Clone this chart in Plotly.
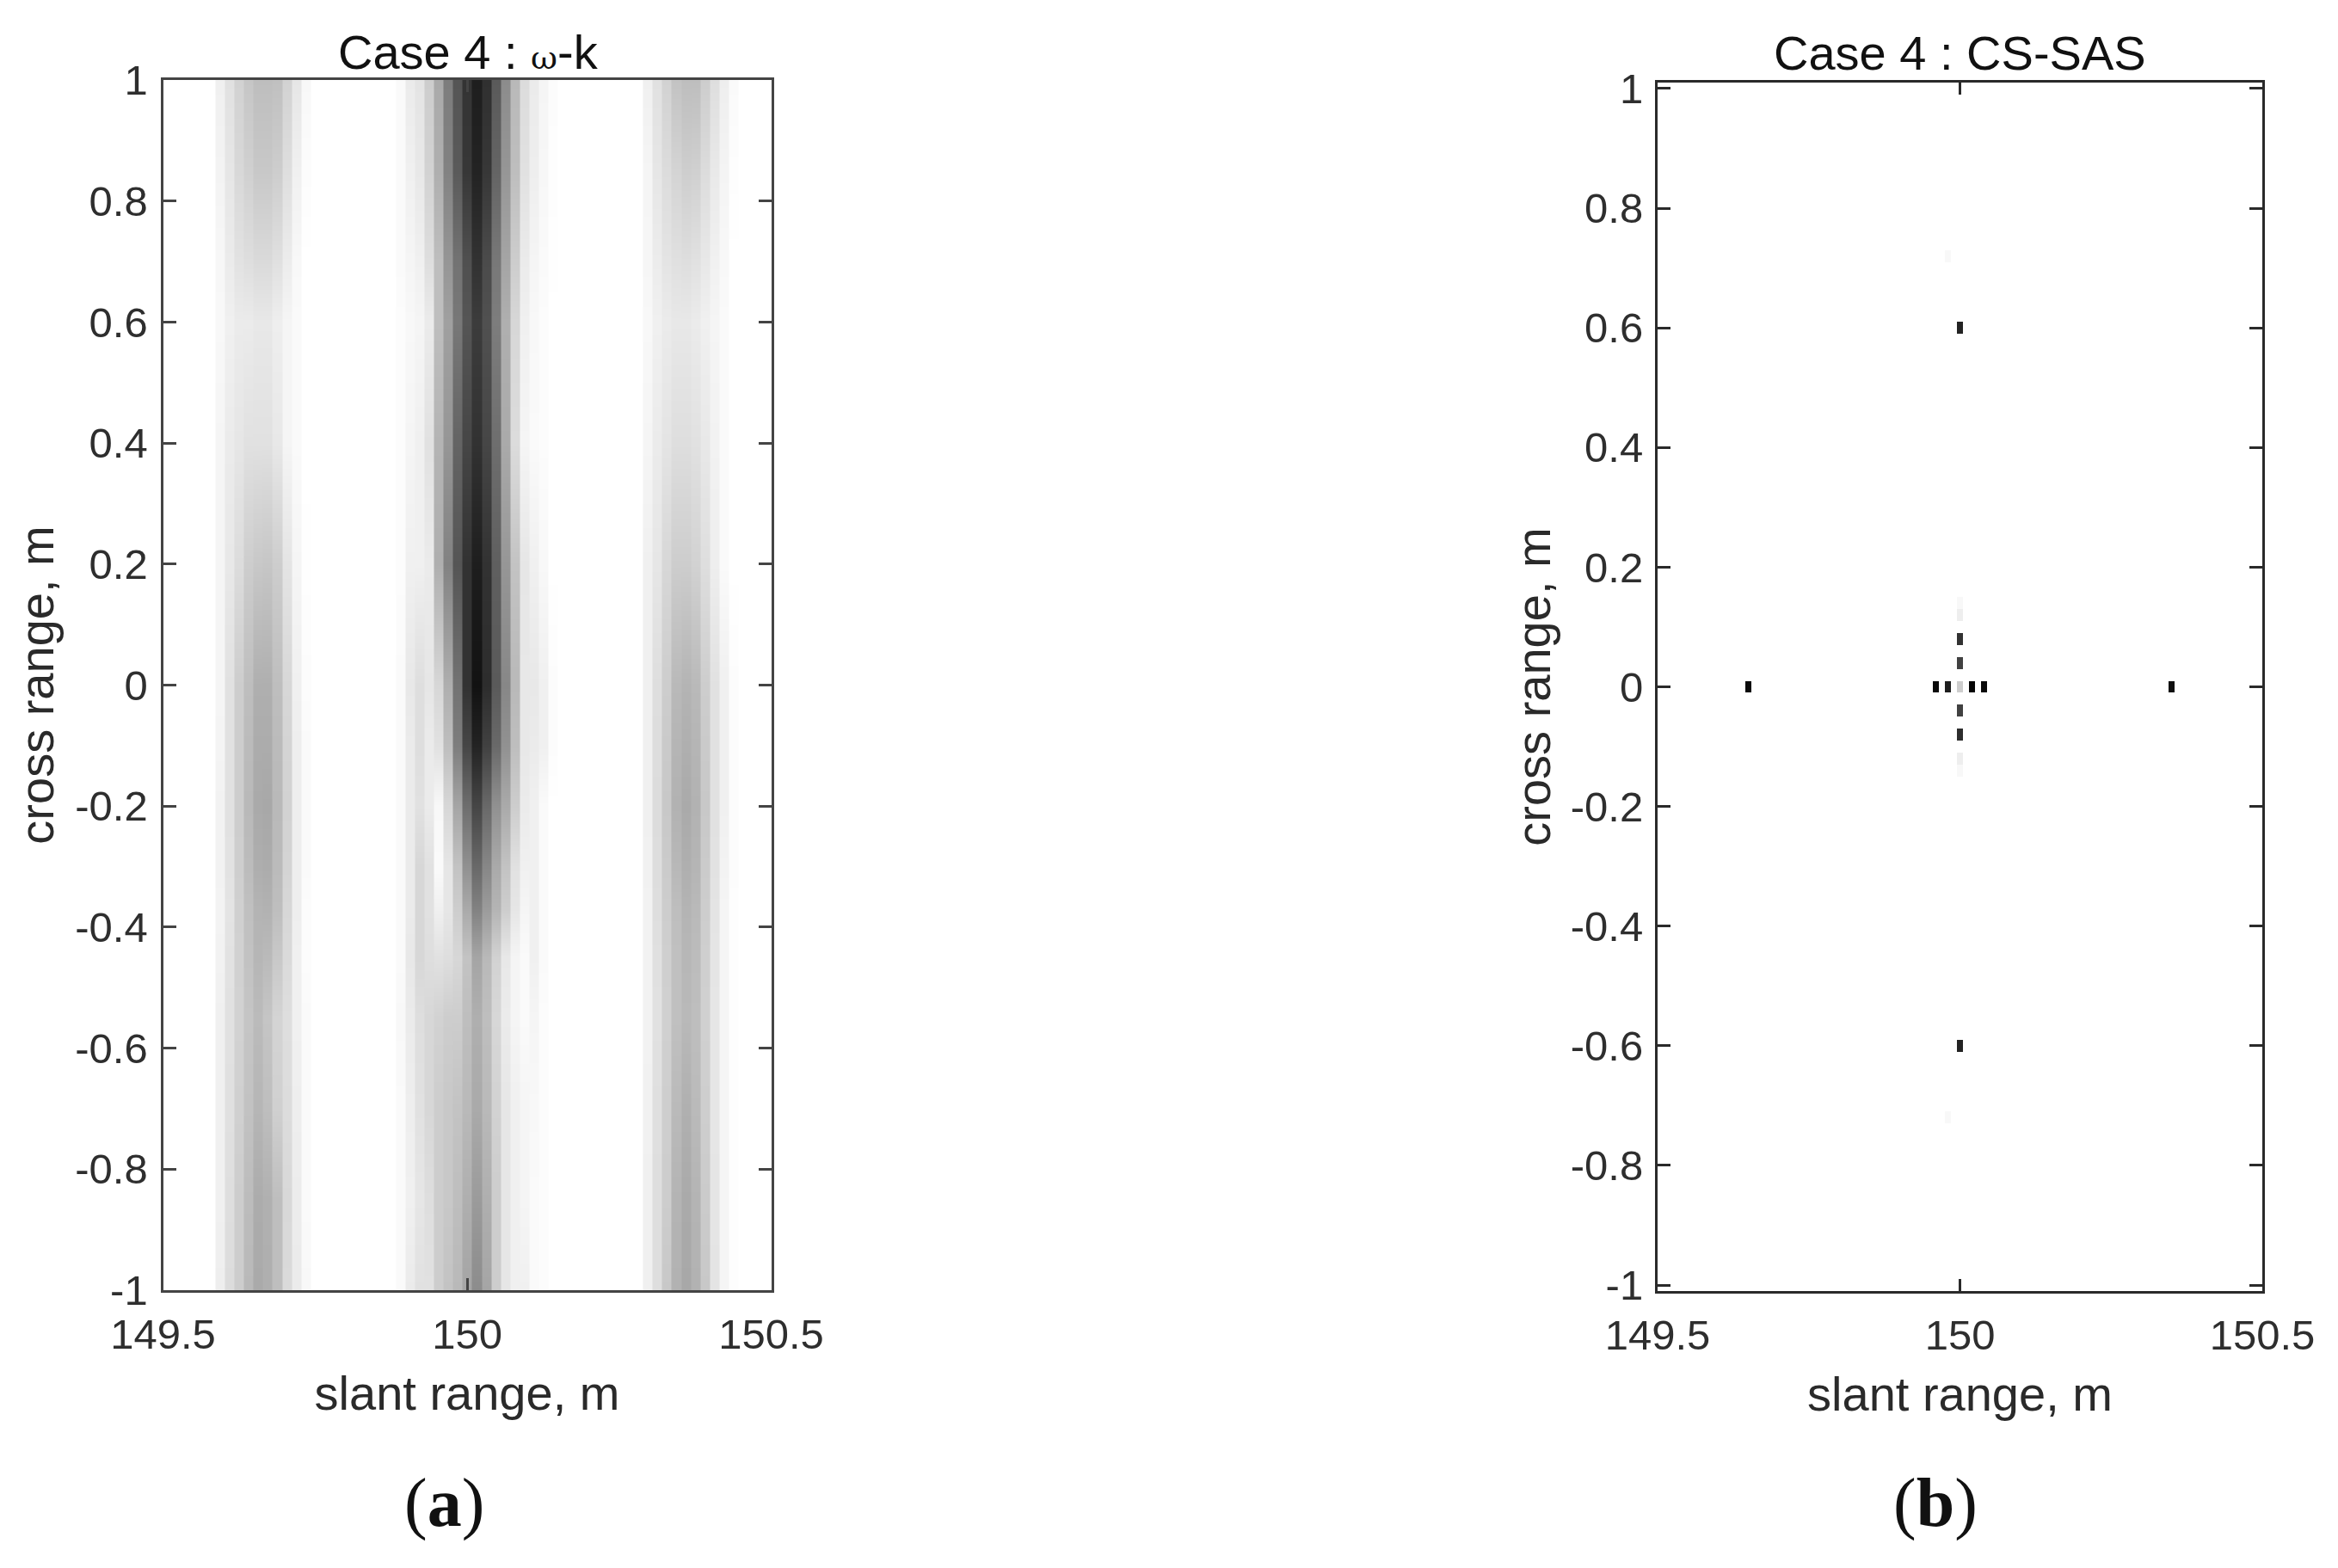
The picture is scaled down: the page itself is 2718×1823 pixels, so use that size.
import numpy as np
import plotly.graph_objects as go

# ---------- tick labels and text ----------
X_TICKS = [149.5, 150, 150.5]
X_TICK_TEXT = ["149.5", "150", "150.5"]
Y_TICKS = [1, 0.8, 0.6, 0.4, 0.2, 0, -0.2, -0.4, -0.6, -0.8, -1]
Y_TICK_TEXT = ["1", "0.8", "0.6", "0.4", "0.2", "0", "-0.2", "-0.4", "-0.6", "-0.8", "-1"]

# ---------- panel (a): grey level (0 black .. 255 white) read per row ----------
ROW_Y = [-1, -0.85, -0.7, -0.55, -0.45, -0.37, -0.3, -0.2, -0.1, 0, 0.2, 0.4, 0.6, 0.7, 0.85, 1]

LEFT_COLS = [6, 7, 8, 9, 10, 11, 12, 13, 14, 15]
LEFT_BAND = [
    [238, 220, 205, 185, 170, 175, 190, 218, 235, 248],
    [240, 222, 205, 188, 172, 176, 190, 216, 236, 250],
    [240, 224, 208, 194, 182, 190, 208, 220, 238, 250],
    [240, 225, 210, 197, 187, 197, 212, 222, 240, 250],
    [242, 226, 209, 194, 182, 186, 200, 218, 240, 252],
    [243, 228, 208, 192, 180, 178, 190, 215, 238, 252],
    [242, 226, 206, 188, 174, 172, 187, 212, 238, 250],
    [242, 225, 205, 185, 170, 168, 185, 210, 238, 250],
    [244, 225, 205, 187, 172, 172, 187, 212, 238, 250],
    [245, 225, 205, 190, 175, 175, 190, 215, 240, 252],
    [245, 232, 220, 205, 200, 198, 205, 228, 245, 254],
    [245, 235, 230, 225, 225, 225, 232, 245, 250, 255],
    [248, 240, 235, 235, 232, 232, 238, 245, 250, 255],
    [247, 235, 226, 222, 218, 218, 224, 236, 248, 255],
    [243, 230, 216, 208, 200, 200, 205, 222, 240, 252],
    [240, 225, 210, 198, 190, 190, 192, 210, 230, 248],
]

CENTRE_COLS = [25, 26, 27, 28, 29, 30, 31, 32, 33, 34, 35, 36, 37, 38, 39, 40, 41]
CENTRE_BAND = [
    [250, 235, 225, 225, 205, 195, 185, 165, 140, 165, 205, 230, 240, 240, 250, 252, 255],
    [250, 240, 230, 222, 205, 200, 190, 175, 155, 175, 205, 230, 240, 245, 250, 252, 255],
    [250, 238, 225, 215, 205, 200, 195, 185, 170, 185, 210, 230, 240, 245, 248, 252, 255],
    [248, 235, 222, 215, 210, 205, 205, 190, 175, 190, 215, 235, 245, 250, 245, 252, 255],
    [250, 232, 215, 222, 225, 222, 215, 195, 165, 185, 210, 232, 245, 250, 240, 250, 255],
    [250, 235, 215, 225, 240, 230, 205, 170, 130, 155, 180, 205, 230, 245, 240, 250, 255],
    [250, 235, 215, 225, 250, 230, 195, 145, 105, 135, 170, 195, 225, 240, 240, 250, 255],
    [250, 235, 225, 235, 248, 215, 165, 110, 70, 105, 145, 170, 205, 235, 240, 250, 255],
    [250, 235, 222, 235, 225, 190, 125, 70, 35, 65, 105, 145, 190, 232, 235, 240, 252],
    [250, 232, 222, 230, 215, 175, 115, 50, 18, 45, 90, 135, 185, 232, 232, 240, 252],
    [252, 240, 240, 235, 175, 130, 85, 50, 30, 50, 95, 150, 195, 230, 240, 248, 255],
    [252, 245, 240, 225, 180, 150, 100, 70, 50, 70, 110, 170, 220, 245, 250, 252, 255],
    [252, 248, 245, 235, 190, 160, 120, 85, 60, 80, 125, 175, 215, 240, 248, 252, 255],
    [250, 245, 240, 222, 190, 150, 115, 80, 50, 75, 120, 165, 205, 235, 245, 250, 254],
    [250, 240, 232, 210, 175, 130, 90, 55, 35, 55, 100, 150, 190, 225, 238, 247, 253],
    [250, 235, 228, 205, 170, 125, 85, 52, 30, 48, 90, 140, 185, 220, 235, 245, 252],
]

RIGHT_COLS = [51, 52, 53, 54, 55, 56, 57, 58, 59, 60]
RIGHT_BAND = [
    [240, 222, 200, 178, 168, 178, 200, 228, 245, 253],
    [240, 222, 205, 180, 170, 180, 203, 229, 245, 253],
    [241, 223, 206, 186, 176, 186, 206, 230, 245, 253],
    [242, 225, 208, 192, 185, 190, 208, 230, 245, 253],
    [242, 224, 207, 192, 183, 188, 207, 229, 245, 253],
    [242, 222, 205, 190, 180, 185, 205, 228, 245, 253],
    [241, 221, 203, 184, 175, 181, 203, 226, 243, 252],
    [240, 220, 200, 178, 170, 178, 200, 225, 240, 252],
    [240, 221, 202, 181, 175, 181, 202, 225, 240, 252],
    [240, 222, 205, 185, 180, 185, 205, 225, 240, 252],
    [240, 230, 215, 205, 205, 210, 222, 238, 250, 255],
    [245, 235, 228, 222, 222, 225, 232, 242, 250, 255],
    [248, 240, 235, 232, 232, 235, 240, 245, 250, 255],
    [246, 236, 228, 224, 222, 225, 232, 241, 248, 255],
    [245, 230, 220, 212, 206, 208, 220, 233, 244, 253],
    [240, 225, 210, 195, 190, 190, 205, 222, 238, 250],
]

# ---------- panel (b): isolated image cells ----------
CELL_X = [-0.35, -0.04, -0.02, 0, 0.02, 0.04, 0.35, 0, 0, 0, 0, 0, 0, 0, 0, 0, 0, -0.02, -0.02]
CELL_Y = [0, 0, 0, 0, 0, 0, 0, 0.04, 0.08, -0.04, -0.08, 0.12, 0.14, -0.12, -0.14, 0.6, -0.6, 0.72, -0.72]
CELL_GREY = [10, 10, 30, 205, 5, 10, 15, 65, 50, 65, 45, 238, 248, 238, 248, 35, 35, 248, 248]

W, H = 2718, 1823
TICK_FONT = dict(family="Liberation Sans", size=49, color="#2e2e2e")
LABEL_FONT = dict(family="Liberation Sans", size=56, color="#2a2a2a")
TITLE_FONT = dict(family="Liberation Sans", size=56, color="#111111")
CAPTION_FONT = dict(family="Liberation Serif", size=80, color="#111111")
GREYS = [[0, "#000000"], [1, "#ffffff"]]

# panel (a) grid: 65 columns, each held flat across its width
n_cols = 65
col_x = 149.5 + np.arange(n_cols) / 64
grey_a = np.full((len(ROW_Y), n_cols), 255.0)
for cols, band in ((LEFT_COLS, LEFT_BAND), (CENTRE_COLS, CENTRE_BAND), (RIGHT_COLS, RIGHT_BAND)):
    grey_a[:, cols] = np.array(band, dtype=float)
half = 0.46 / 64
x_a = np.ravel(np.column_stack([col_x - half, col_x + half]))
z_a = np.repeat(grey_a, 2, axis=1)

# panel (b) grid
x_b = 149.5 + np.arange(101) * 0.01
y_b = -1 + np.arange(101) * 0.02
grey_b = np.full((101, 101), 255.0)
for cx, cy, g in zip(CELL_X, CELL_Y, CELL_GREY):
    grey_b[int(round((cy + 1) / 0.02)), int(round((cx + 0.5) / 0.01))] = g

fig = go.Figure()
fig.add_trace(go.Heatmap(x=x_a, y=ROW_Y, z=z_a, colorscale=GREYS, zmin=0, zmax=255,
                         zsmooth="best", showscale=False, xaxis="x", yaxis="y"))
fig.add_trace(go.Heatmap(x=x_b, y=y_b, z=grey_b, colorscale=GREYS, zmin=0, zmax=255,
                         showscale=False, xaxis="x2", yaxis="y2"))


def dom_x(a, b):
    return [a / W, b / W]


def dom_y(top, bottom):
    return [1 - bottom / H, 1 - top / H]


def x_axis(domain, anchor, line, width):
    return dict(domain=domain, anchor=anchor, range=[149.5, 150.5], tickmode="array",
                tickvals=X_TICKS, ticktext=X_TICK_TEXT, ticks="inside", ticklen=14, tickwidth=3,
                tickcolor=line, showline=True, linecolor=line, linewidth=width, mirror="allticks",
                showgrid=False, zeroline=False, tickfont=TICK_FONT, tickangle=0, automargin=False,
                ticklabelstandoff=6,
                title=dict(text="slant range, m", font=LABEL_FONT, standoff=24))


def y_axis(domain, anchor, rng, line, width, standoff, label_gap):
    return dict(domain=domain, anchor=anchor, range=rng, tickmode="array",
                tickvals=Y_TICKS, ticktext=Y_TICK_TEXT, ticks="inside", ticklen=15, tickwidth=3,
                tickcolor=line, showline=True, linecolor=line, linewidth=width, mirror="allticks",
                showgrid=False, zeroline=False, tickfont=TICK_FONT, automargin=False,
                ticklabelstandoff=label_gap,
                title=dict(text="cross range, m", font=LABEL_FONT, standoff=standoff))


def caption(text, x, y, font):
    return dict(text=text, xref="paper", yref="paper", x=x / W, y=1 - y / H, showarrow=False,
                xanchor="center", yanchor="middle", font=font)


fig.update_layout(
    width=W, height=H, autosize=False, showlegend=False,
    paper_bgcolor="white", plot_bgcolor="white",
    margin=dict(l=0, r=0, t=0, b=0),
    xaxis=x_axis(dom_x(189.5, 896.5), "y", "#444444", 3),
    yaxis=y_axis(dom_y(93, 1500), "x", [-1, 1], "#444444", 3, 7, 5),
    xaxis2=x_axis(dom_x(1927, 2630), "y2", "#2a2a2a", 3),
    yaxis2=y_axis(dom_y(96, 1501), "x2", [-1.01, 1.01], "#2a2a2a", 3, 6, 4),
    annotations=[
        caption("Case 4 : <span style='font-family:DejaVu Serif;font-size:38px'>ω</span>-k",
                544, 61, TITLE_FONT),
        caption("Case 4 : CS-SAS", 2278, 62, TITLE_FONT),
        caption("(<b>a</b>)", 516, 1747, CAPTION_FONT),
        caption("(<b>b</b>)", 2250, 1747, CAPTION_FONT),
    ],
)

fig.write_html("out.html", config=dict(displayModeBar=False),
               post_script="document.body.style.margin='0';document.body.style.overflow='hidden';")
